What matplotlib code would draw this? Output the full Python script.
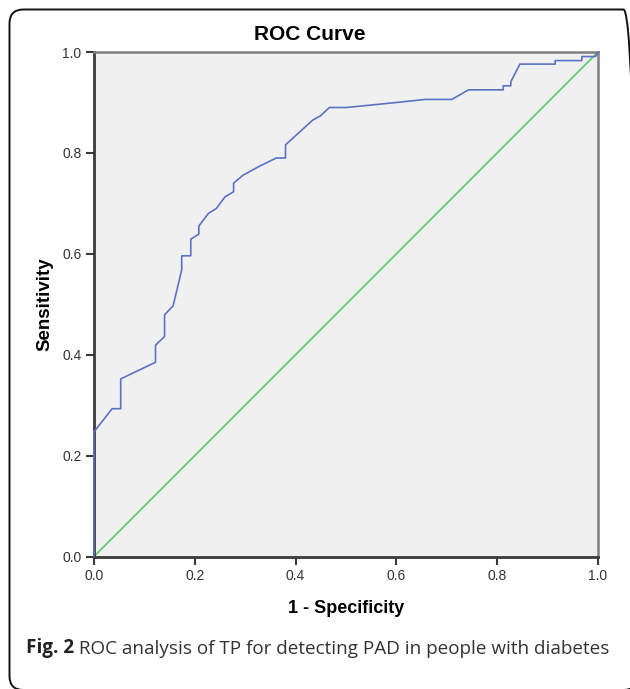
import matplotlib
matplotlib.use("Agg")
import matplotlib.pyplot as plt
from matplotlib.patches import FancyBboxPatch
from matplotlib.transforms import IdentityTransform

# ROC points
fpr = [0, 0, 0.036, 0.053, 0.053, 0.122, 0.122, 0.140, 0.140, 0.157, 0.174, 0.174,
       0.192, 0.192, 0.208, 0.208, 0.227, 0.243, 0.260, 0.277, 0.277, 0.296, 0.329,
       0.362, 0.380, 0.380, 0.434, 0.450, 0.467, 0.501, 0.601, 0.657, 0.710, 0.743,
       0.812, 0.812, 0.827, 0.827, 0.845, 0.915, 0.915, 0.968, 0.968, 0.995, 1.0]
tpr = [0, 0.247, 0.293, 0.293, 0.352, 0.385, 0.419, 0.436, 0.479, 0.497, 0.568, 0.596,
       0.596, 0.629, 0.639, 0.655, 0.680, 0.690, 0.713, 0.723, 0.740, 0.756, 0.774,
       0.790, 0.790, 0.816, 0.865, 0.874, 0.890, 0.890, 0.900, 0.906, 0.906, 0.925,
       0.925, 0.933, 0.933, 0.941, 0.976, 0.976, 0.983, 0.983, 0.991, 0.991, 1.0]
ref_line = [0, 1]
ticks = [0.0, 0.2, 0.4, 0.6, 0.8, 1.0]
tick_labels = ["0.0", "0.2", "0.4", "0.6", "0.8", "1.0"]

plt.rcParams["font.family"] = ["Liberation Sans", "DejaVu Sans"]

W, H = 630, 689
fig = plt.figure(figsize=(W / 100, H / 100), dpi=100)
ax = fig.add_axes([94 / W, 1 - 556.5 / H, 504 / W, 504.5 / H])
ax.set_facecolor("#f0f0f0")

ax.plot(ref_line, ref_line, color="#55c96a", lw=1.2, zorder=2)
ax.plot(fpr, tpr, color="#5a72c4", lw=1.2, zorder=3, clip_on=False)

ax.set_xlim(0, 1)
ax.set_ylim(0, 1)
ax.set_xticks(ticks)
ax.set_xticklabels(tick_labels)
ax.set_yticks(ticks)
ax.set_yticklabels(tick_labels)
ax.tick_params(direction="out", length=6, width=1.5, color="#3a3a3a",
               labelsize=10, labelcolor="#333333", pad=3)

for side in ["left", "bottom"]:
    ax.spines[side].set_color("#3a3a3a")
    ax.spines[side].set_linewidth(2)
for side in ["top", "right"]:
    ax.spines[side].set_color("#808080")
    ax.spines[side].set_linewidth(1.8)

ax.set_xlabel("1 - Specificity", fontsize=13, fontweight="bold", labelpad=12)
ax.set_ylabel("Sensitivity", fontsize=13.5, fontweight="bold", labelpad=6)
fig.text(310 / W, 1 - 35 / H, "ROC Curve", fontsize=15, fontweight="bold",
         ha="center", va="center")

# caption under the chart
cap = fig.text(26 / W, 1 - 653 / H, "Fig. 2", fontsize=13.6, fontweight="bold",
               family=["Open Sans", "DejaVu Sans"], color="#222222")
ax.annotate(" ROC analysis of TP for detecting PAD in people with diabetes",
            xy=(1, 0), xycoords=cap, va="bottom", ha="left", fontsize=13.6,
            family=["Open Sans", "DejaVu Sans"], color="#333333",
            annotation_clip=False)

# rounded frame around the figure, right edge just off the image
frame = FancyBboxPatch((9.5, -1), 628, 680.5, boxstyle="round,pad=0,rounding_size=14",
                       fill=False, edgecolor="#111111", lw=1.4,
                       transform=IdentityTransform())
fig.add_artist(frame)

fig.savefig("out.png", dpi=100)
